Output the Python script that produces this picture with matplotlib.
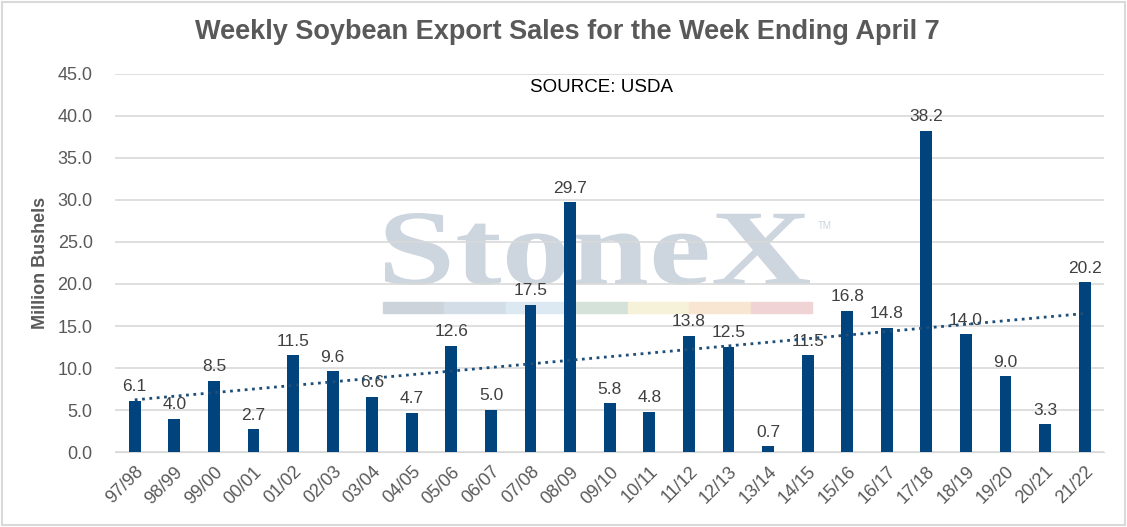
import matplotlib.pyplot as plt
import numpy as np
from matplotlib.patches import Rectangle, PathPatch
from matplotlib.textpath import TextPath
from matplotlib.font_manager import FontProperties
from matplotlib.transforms import Affine2D

years = ['97/98', '98/99', '99/00', '00/01', '01/02', '02/03', '03/04', '04/05',
         '05/06', '06/07', '07/08', '08/09', '09/10', '10/11', '11/12', '12/13',
         '13/14', '14/15', '15/16', '16/17', '17/18', '18/19', '19/20', '20/21', '21/22']
sales = [6.1, 4.0, 8.5, 2.7, 11.5, 9.6, 6.6, 4.7, 12.6, 5.0, 17.5, 29.7, 5.8,
         4.8, 13.8, 12.5, 0.7, 11.5, 16.8, 14.8, 38.2, 14.0, 9.0, 3.3, 20.2]
yticks = [0, 5, 10, 15, 20, 25, 30, 35, 40, 45]

plt.rcParams['font.family'] = ['Liberation Sans', 'DejaVu Sans']
grey = '#595959'
W, H = 1127.0, 527.0

fig = plt.figure(figsize=(11.27, 5.27), dpi=100)
ax = fig.add_axes([0.102, 0.142, 0.878, 0.718])

# watermark, stretched into its box (bars are drawn over it)
tp = TextPath((0, 0), 'StoneX', size=1,
              prop=FontProperties(family='Liberation Serif', weight='bold'))
ext = tp.get_extents()
sx = (810 - 385) / W / ext.width
sy = (285 - 213) / H / ext.height
tr = Affine2D().translate(-ext.x0, -ext.y0).scale(sx, sy).translate(385 / W, 1 - 285 / H)
ax.add_patch(PathPatch(tr.transform_path(tp), facecolor='#cdd5de', edgecolor='none',
                       transform=fig.transFigure, zorder=1, clip_on=False))
ax.text(818 / W, 1 - 226 / H, 'TM', fontsize=7, color='#cdd5de',
        ha='left', va='center', transform=fig.transFigure, zorder=1)
wm_cols = ['#ccd3db', '#d3dde8', '#dce9f3', '#d5e2d9', '#f5f2d9', '#f8e6d3', '#f0d3d5']
w = (812 - 383) / W / len(wm_cols)
for i in range(len(wm_cols)):
    ax.add_patch(Rectangle((383 / W + i * w, 1 - 313 / H), w, 11 / H,
                           transform=fig.transFigure, color=wm_cols[i], zorder=1,
                           clip_on=False))

x = np.arange(len(years))
ax.bar(x, sales, width=0.3, color='#00437d', zorder=3)
for i in range(len(sales)):
    ax.text(x[i], sales[i] + 0.8, '%.1f' % sales[i], ha='center', va='bottom',
            fontsize=12.5, color='#404040', zorder=4)

# linear trendline
p = np.polyfit(x, sales, 1)
ax.plot(x, np.polyval(p, x), ':', color='#1f4e79', linewidth=2, zorder=4)

ax.set_xlim(-0.5, len(years) - 0.5)
ax.set_ylim(0, 45)
ax.set_yticks(yticks)
ax.set_yticklabels(['%.1f' % v for v in yticks], fontsize=13, color=grey)
ax.set_xticks(x)
ax.set_xticklabels(years, rotation=45, ha='right', rotation_mode='anchor',
                   fontsize=13, color=grey)
ax.tick_params(axis='y', length=0, pad=16)
ax.tick_params(axis='x', length=0, pad=8)
ax.grid(axis='y', color='#d9d9d9', linewidth=1.2, zorder=0)
for s in ['top', 'right', 'left']:
    ax.spines[s].set_visible(False)
ax.spines['bottom'].set_color('#d9d9d9')
ax.set_ylabel('Million Bushels', fontsize=13, fontweight='bold', color=grey, labelpad=6)

fig.text(0.503, 0.940, 'Weekly Soybean Export Sales for the Week Ending April 7',
         fontsize=19.5, fontweight='bold', color=grey, ha='center', va='center')
ax.text(601 / W, 1 - 88 / H, 'SOURCE: USDA', transform=fig.transFigure,
        fontsize=13.5, ha='center', va='center', color='black')

fig.patches.append(Rectangle((0.002, 0.003), 0.996, 0.994, transform=fig.transFigure,
                             fill=False, edgecolor='#d9d9d9', linewidth=1.5))

fig.savefig('out.png', dpi=100)
